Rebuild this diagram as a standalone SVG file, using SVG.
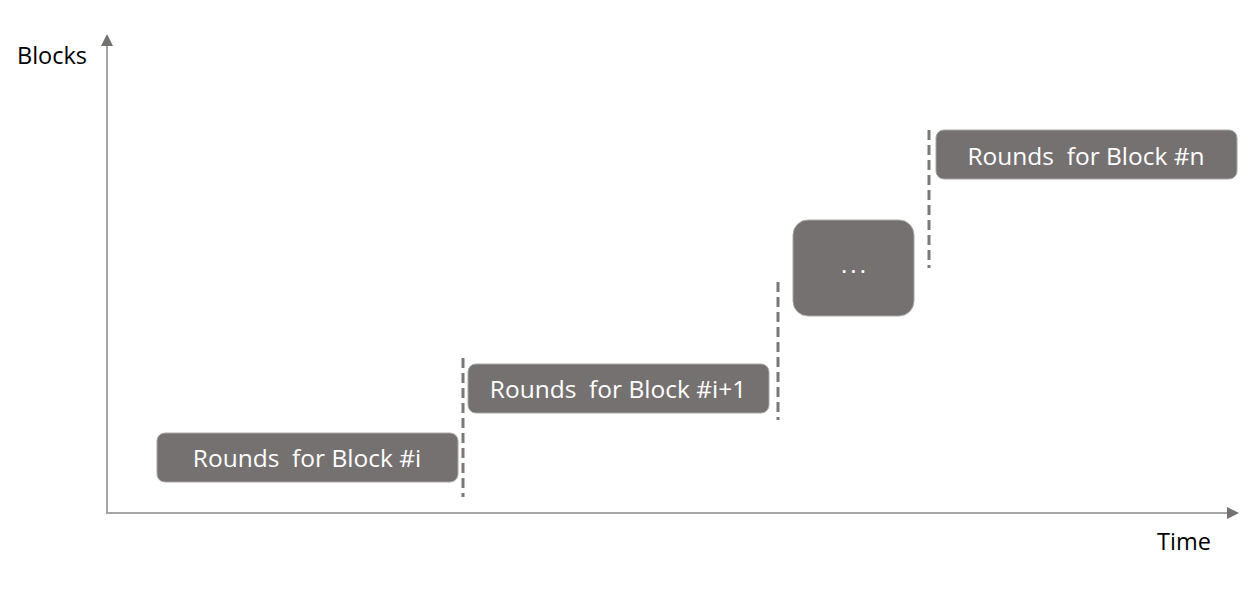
<svg xmlns="http://www.w3.org/2000/svg" width="1250" height="591" viewBox="0 0 1250 591">
<style>
.box{fill:#767171;stroke:#a9a6a6;stroke-width:1}
.lbl{font-family:"Open Sans","Noto Sans",sans-serif;font-size:24.5px;fill:#ffffff;text-anchor:middle;white-space:pre}
.dots{font-family:"Open Sans","Noto Sans",sans-serif;font-size:24px;fill:#ffffff;text-anchor:middle;letter-spacing:3px}
.axlbl{font-family:"Open Sans","Noto Sans",sans-serif;font-size:23.5px;fill:#000000}
.axis{stroke:#a6a6a6;stroke-width:2;fill:none}
.dash{stroke:#7a7878;stroke-width:3;stroke-dasharray:10 5;fill:none}
</style>
<defs>
<marker id="ah" markerWidth="12" markerHeight="12" refX="10" refY="6" orient="auto" markerUnits="userSpaceOnUse">
<path d="M0,0 L12,6 L0,12 Z" fill="#767171"/>
</marker>
</defs>
<rect width="1250" height="591" fill="#ffffff"/>
<g id="connectors">
<line class="axis" x1="107" y1="514" x2="107" y2="36" marker-end="url(#ah)"/>
<line class="axis" x1="106" y1="513" x2="1237" y2="513" marker-end="url(#ah)"/>
<line class="dash" x1="463" y1="358" x2="463" y2="497"/>
<line class="dash" x1="778" y1="282" x2="778" y2="420"/>
<line class="dash" x1="929" y1="130" x2="929" y2="268"/>
</g>
<g id="axis-labels">
<text class="axlbl" x="17" y="64">Blocks</text>
<text class="axlbl" x="1157" y="550">Time</text>
</g>
<g id="block-i">
<rect class="box" x="157" y="433" width="301" height="49" rx="8"/>
<text class="lbl" x="307" y="467">Rounds  for Block #i</text>
</g>
<g id="block-i1">
<rect class="box" x="468" y="364" width="301" height="49" rx="8"/>
<text class="lbl" x="618" y="398">Rounds  for Block #i+1</text>
</g>
<g id="block-dots">
<rect class="box" x="793" y="220" width="121" height="96" rx="15"/>
<text class="dots" x="855" y="273">...</text>
</g>
<g id="block-n">
<rect class="box" x="936" y="130" width="301" height="49" rx="8"/>
<text class="lbl" x="1086" y="165">Rounds  for Block #n</text>
</g>
</svg>
